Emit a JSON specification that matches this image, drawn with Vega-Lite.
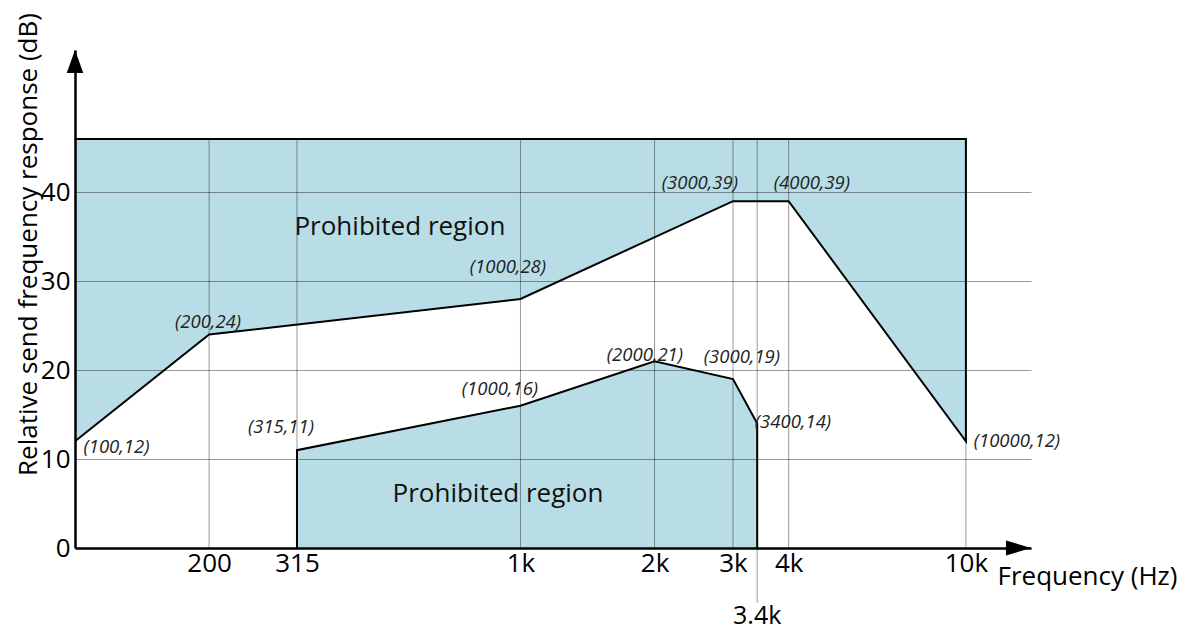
{
  "$schema": "https://vega.github.io/schema/vega-lite/v6.json",
  "width": 956,
  "height": 498,
  "autosize": "none",
  "padding": {"left": 75, "top": 50, "right": 157, "bottom": 87},
  "config": {"view": {"stroke": null}, "font": "Open Sans"},
  "datasets": {
    "upper": [
      {"f": 100, "db": 12}, {"f": 200, "db": 24}, {"f": 1000, "db": 28},
      {"f": 3000, "db": 39}, {"f": 4000, "db": 39}, {"f": 10000, "db": 12}
    ],
    "lower": [
      {"f": 315, "db": 11}, {"f": 1000, "db": 16}, {"f": 2000, "db": 21},
      {"f": 3000, "db": 19}, {"f": 3400, "db": 14}
    ],
    "vgrid": [
      {"f": 200, "db": 0, "db2": 46}, {"f": 315, "db": 0, "db2": 46},
      {"f": 1000, "db": 0, "db2": 46}, {"f": 2000, "db": 0, "db2": 46},
      {"f": 3000, "db": 0, "db2": 46}, {"f": 3400, "db": -6.2, "db2": 46},
      {"f": 4000, "db": 0, "db2": 46}, {"f": 10000, "db": 0, "db2": 46}
    ],
    "outline": [
      {"part": "u", "o": 1, "f": 100, "db": 46}, {"part": "u", "o": 2, "f": 10000, "db": 46},
      {"part": "u", "o": 3, "f": 10000, "db": 12}, {"part": "u", "o": 4, "f": 4000, "db": 39},
      {"part": "u", "o": 5, "f": 3000, "db": 39}, {"part": "u", "o": 6, "f": 1000, "db": 28},
      {"part": "u", "o": 7, "f": 200, "db": 24}, {"part": "u", "o": 8, "f": 100, "db": 12},
      {"part": "l", "o": 1, "f": 315, "db": 0}, {"part": "l", "o": 2, "f": 315, "db": 11},
      {"part": "l", "o": 3, "f": 1000, "db": 16}, {"part": "l", "o": 4, "f": 2000, "db": 21},
      {"part": "l", "o": 5, "f": 3000, "db": 19}, {"part": "l", "o": 6, "f": 3400, "db": 14},
      {"part": "l", "o": 7, "f": 3400, "db": 0}
    ],
    "notes": [
      {"f": 123.9, "db": 11.35, "t": "(100,12)"},
      {"f": 198.9, "db": 25.39, "t": "(200,24)"},
      {"f": 937.4, "db": 31.57, "t": "(1000,28)"},
      {"f": 2528, "db": 41.01, "t": "(3000,39)"},
      {"f": 4512, "db": 41.01, "t": "(4000,39)"},
      {"f": 13016, "db": 12.02, "t": "(10000,12)"},
      {"f": 290, "db": 13.6, "t": "(315,11)"},
      {"f": 899.5, "db": 17.87, "t": "(1000,16)"},
      {"f": 1903, "db": 21.69, "t": "(2000,21)"},
      {"f": 3142, "db": 21.46, "t": "(3000,19)"},
      {"f": 4090, "db": 14.16, "t": "(3400,14)"}
    ],
    "regions": [
      {"f": 536.3, "db": 36.07, "t": "Prohibited region"},
      {"f": 890.4, "db": 6.07, "t": "Prohibited region"}
    ],
    "extra": [{"f": 3400, "db": -7.6, "t": "3.4k"}],
    "yarrow": [{"f": 100, "db": 56}],
    "xarrow": [{"f": 14000, "db": 0}]
  },
  "encoding": {
    "x": {
      "field": "f", "type": "quantitative",
      "scale": {"type": "log", "domain": [100, 14000], "nice": false},
      "axis": {
        "values": [200, 315, 1000, 2000, 3000, 4000, 10000],
        "labelExpr": "datum.value >= 1000 ? (datum.value / 1000) + 'k' : '' + datum.value",
        "labelOverlap": false, "labelFlush": false, "labelBound": false,
        "ticks": false, "grid": false,
        "domainColor": "black", "domainWidth": 2.5,
        "labelFontSize": 26, "labelColor": "black", "labelPadding": 2,
        "title": "Frequency (Hz)", "titleFontSize": 26, "titleFontWeight": "normal",
        "titleColor": "black", "titleAlign": "left", "titleBaseline": "alphabetic",
        "titleX": 922, "titleY": 36, "zindex": 1
      }
    },
    "y": {
      "field": "db", "type": "quantitative",
      "scale": {"domain": [0, 56], "nice": false, "zero": false},
      "axis": {
        "values": [0, 10, 20, 30, 40],
        "ticks": false, "grid": true, "gridColor": "black", "gridOpacity": 0.4, "gridWidth": 1,
        "domainColor": "black", "domainWidth": 2.5,
        "labelFontSize": 26, "labelColor": "black", "labelPadding": 5,
        "title": "Relative send frequency response (dB)", "titleFontSize": 26,
        "titleFontWeight": "normal", "titleColor": "black",
        "titleAngle": -90, "titleAlign": "center", "titleBaseline": "middle",
        "titleX": -47, "titleY": 194, "zindex": 1
      }
    }
  },
  "layer": [
    {
      "data": {"name": "upper"},
      "mark": {"type": "area", "color": "#b8dde6", "opacity": 1},
      "encoding": {"y2": {"datum": 46}}
    },
    {
      "data": {"name": "lower"},
      "mark": {"type": "area", "color": "#b8dde6", "opacity": 1},
      "encoding": {"y2": {"datum": 0}}
    },
    {
      "data": {"name": "vgrid"},
      "mark": {"type": "rule", "color": "black", "opacity": 0.4, "strokeWidth": 1},
      "encoding": {"y2": {"field": "db2"}}
    },
    {
      "data": {"name": "outline"},
      "mark": {"type": "line", "color": "black", "strokeWidth": 2},
      "encoding": {
        "detail": {"field": "part", "type": "nominal"},
        "order": {"field": "o", "type": "quantitative"}
      }
    },
    {
      "data": {"name": "yarrow"},
      "mark": {"type": "point", "shape": "M0,0L0.36,1L-0.36,1Z", "size": 2116, "filled": true, "color": "black", "opacity": 1}
    },
    {
      "data": {"name": "xarrow"},
      "mark": {"type": "point", "shape": "M0,0L-1,-0.3L-1,0.3Z", "size": 2500, "filled": true, "color": "black", "opacity": 1}
    },
    {
      "data": {"name": "notes"},
      "mark": {"type": "text", "fontSize": 18.5, "fontStyle": "italic", "color": "#222222", "align": "center", "baseline": "middle"},
      "encoding": {"text": {"field": "t"}}
    },
    {
      "data": {"name": "regions"},
      "mark": {"type": "text", "fontSize": 26, "color": "#111111", "align": "center", "baseline": "middle"},
      "encoding": {"text": {"field": "t"}}
    },
    {
      "data": {"name": "extra"},
      "mark": {"type": "text", "fontSize": 25, "color": "black", "align": "center", "baseline": "middle"},
      "encoding": {"text": {"field": "t"}}
    }
  ]
}
